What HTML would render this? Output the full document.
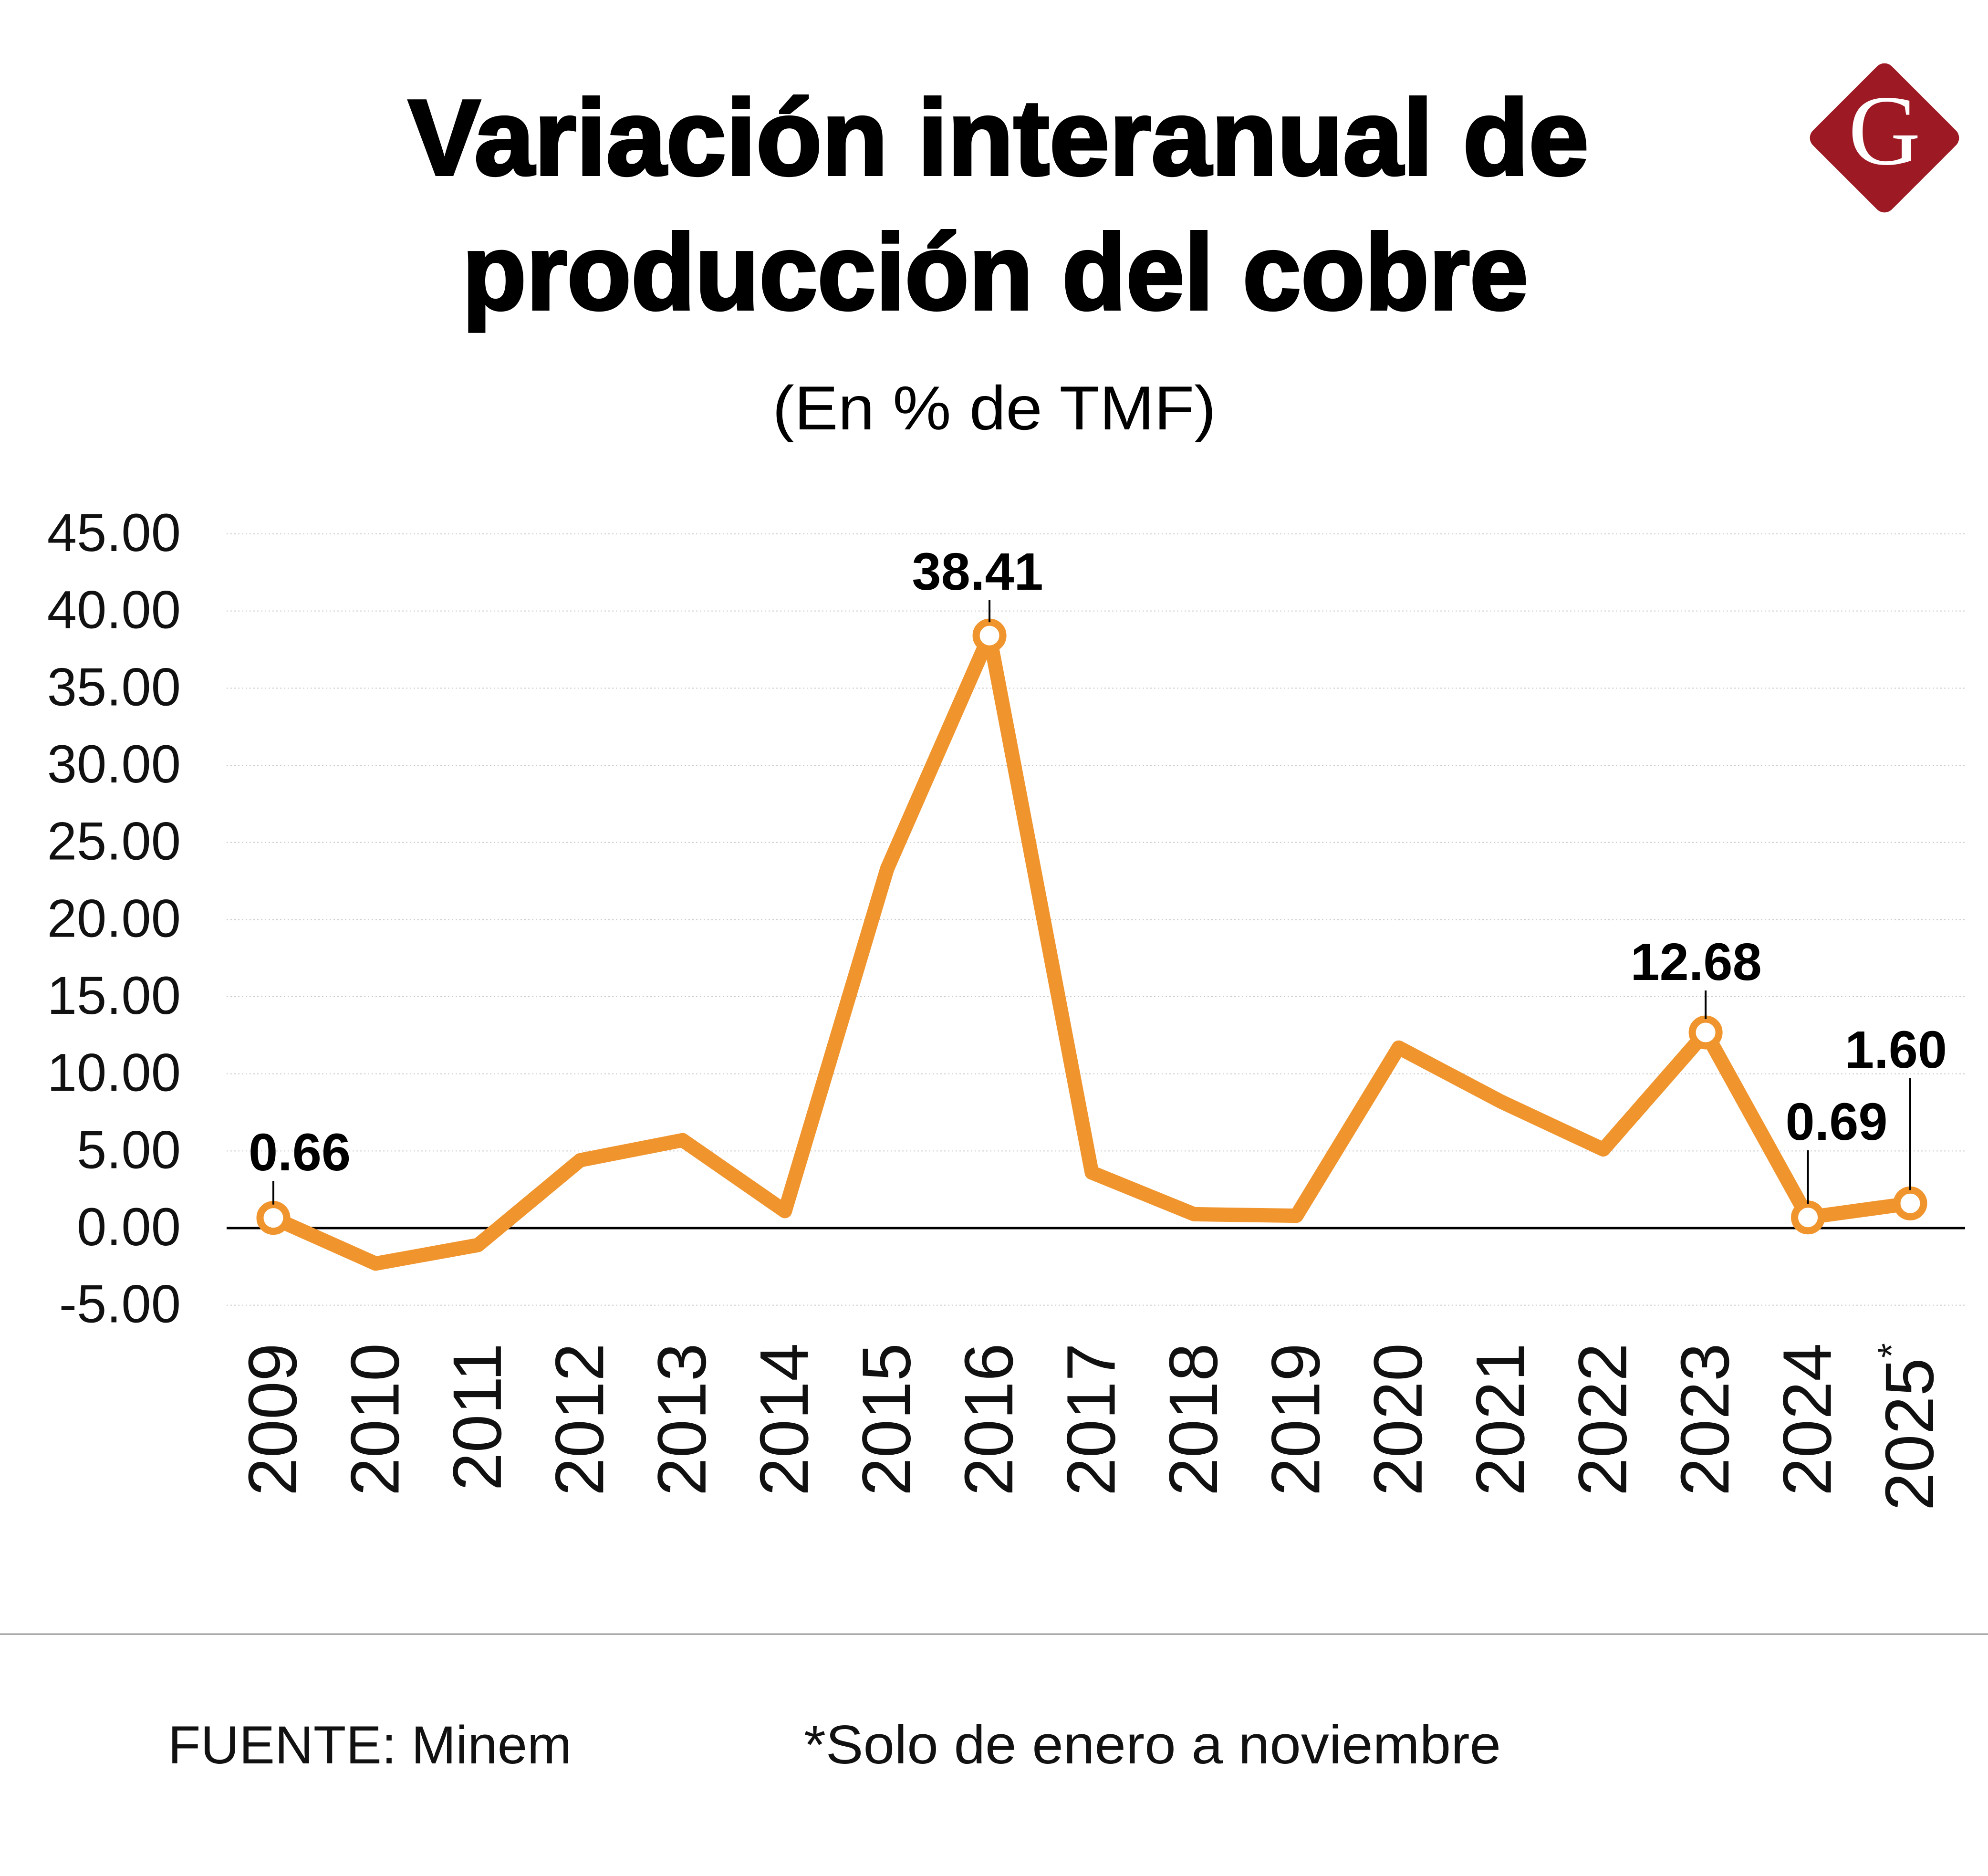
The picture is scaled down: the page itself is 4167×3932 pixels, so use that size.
<!DOCTYPE html>
<html><head><meta charset="utf-8"><style>
html,body{margin:0;padding:0;background:#fff}
svg{display:block}
</style></head><body>
<svg id="chart" width="4167" height="3932" viewBox="0 0 4167 3932" xmlns="http://www.w3.org/2000/svg" font-family="'Liberation Sans', sans-serif">
<rect width="4167" height="3932" fill="#fff"/>
<text x="2093" y="366" text-anchor="middle" font-size="225" font-weight="bold" textLength="2474" lengthAdjust="spacingAndGlyphs" fill="#000" stroke="#000" stroke-width="6">Variación interanual de</text>
<text x="2086" y="648" text-anchor="middle" font-size="225" font-weight="bold" textLength="2234" lengthAdjust="spacingAndGlyphs" fill="#000" stroke="#000" stroke-width="6">producción del cobre</text>
<text x="2084" y="900" text-anchor="middle" font-size="130" textLength="930" lengthAdjust="spacingAndGlyphs" fill="#000">(En % de TMF)</text>
<g>
<rect x="3833" y="172" width="234" height="234" rx="22" fill="#9d1a25" style="transform-box:fill-box;transform-origin:center;transform:rotate(45deg)"/>
<text x="3950" y="344" text-anchor="middle" font-family="'Liberation Serif', serif" font-size="210" fill="#fff">G</text>
</g>
<g id="grid"></g>
<g id="yaxis"></g>
<g id="xaxis"></g>
<g id="series"></g>
<g id="labels"></g>
<line x1="0" y1="3425" x2="4167" y2="3425" stroke="#999" stroke-width="3"/>
<text x="352" y="3696" font-size="112" fill="#111">FUENTE: Minem</text>
<text x="1685" y="3696" font-size="114" textLength="1461" lengthAdjust="spacingAndGlyphs" fill="#111">*Solo de enero a noviembre</text>
</svg>
<script>
const years = ["2009","2010","2011","2012","2013","2014","2015","2016","2017","2018","2019","2020","2021","2022","2023","2024","2025"];
const values = [0.66,-2.3,-1.1,4.4,5.7,1.1,23.3,38.41,3.6,0.9,0.8,11.7,8.2,5.1,12.68,0.69,1.60];
const yTicks = [45,40,35,30,25,20,15,10,5,0,-5];
const labeledIdx = [0,7,14,15,16];
const labelText = ["0.66","38.41","12.68","0.69","1.60"];

const NS="http://www.w3.org/2000/svg";
const x0=573, x1=4004, yZero=2574, perUnit=(2574-1119)/45;
const plotL=475, plotR=4119;
function xs(i){return x0+(x1-x0)*i/(years.length-1);}
function ys(v){return yZero - v*perUnit;}
function mk(tag,attrs,parent){const e=document.createElementNS(NS,tag);for(const k in attrs)e.setAttribute(k,attrs[k]);parent.appendChild(e);return e;}

const grid=document.getElementById('grid'), yax=document.getElementById('yaxis'), xax=document.getElementById('xaxis');
yTicks.forEach(t=>{
  const l=mk('line',{x1:plotL,x2:plotR,y1:ys(t),y2:ys(t),stroke:t===0?'#000':'#ccc','stroke-width':t===0?5:2,'stroke-dasharray':t===0?'none':'3 5'},grid);
  
  
  const tx=mk('text',{x:379,y:ys(t)+36,'text-anchor':'end','font-size':112,fill:'#111'},yax);
  tx.textContent=t.toFixed(2);
  
  
});
years.forEach((y,i)=>{
  const cx=xs(i)+48, cy=2815;
  const tx=mk('text',{x:cx,y:cy,'text-anchor':'end','font-size':144,fill:'#111',transform:`rotate(-90 ${cx} ${cy})`},xax);
  tx.textContent=y;
  if(i===years.length-1){const ts=mk('tspan',{'font-size':80,dy:-60},tx);ts.textContent='*';}
  
  
});
const ser=document.getElementById('series');
const pts=values.map((v,i)=>xs(i)+','+ys(v)).join(' ');
const pl=mk('polyline',{points:pts,fill:'none',stroke:'#f0942d','stroke-width':30,'stroke-linejoin':'round','stroke-linecap':'round'},ser);


const lab=document.getElementById('labels');
const offs=[{dx:55,ty:2453},{dx:-25,ty:1236},{dx:-20,ty:2054},{dx:60,ty:2389},{dx:-30,ty:2238}];
labeledIdx.forEach((idx,k)=>{
  const px=xs(idx), py=ys(values[idx]);
  const tk=mk('line',{x1:px,x2:px,y1:offs[k].ty+22,y2:py-28,stroke:'#000','stroke-width':4},lab);
  
  
  const c=mk('circle',{cx:px,cy:py,r:28,fill:'#fff',stroke:'#f0942d','stroke-width':15},ser);
  
  
  const tx=mk('text',{x:px+offs[k].dx,y:offs[k].ty,'text-anchor':'middle','font-size':110,'font-weight':'bold',fill:'#000'},lab);
  tx.textContent=labelText[k];
  
  
});
</script>
</body></html>
